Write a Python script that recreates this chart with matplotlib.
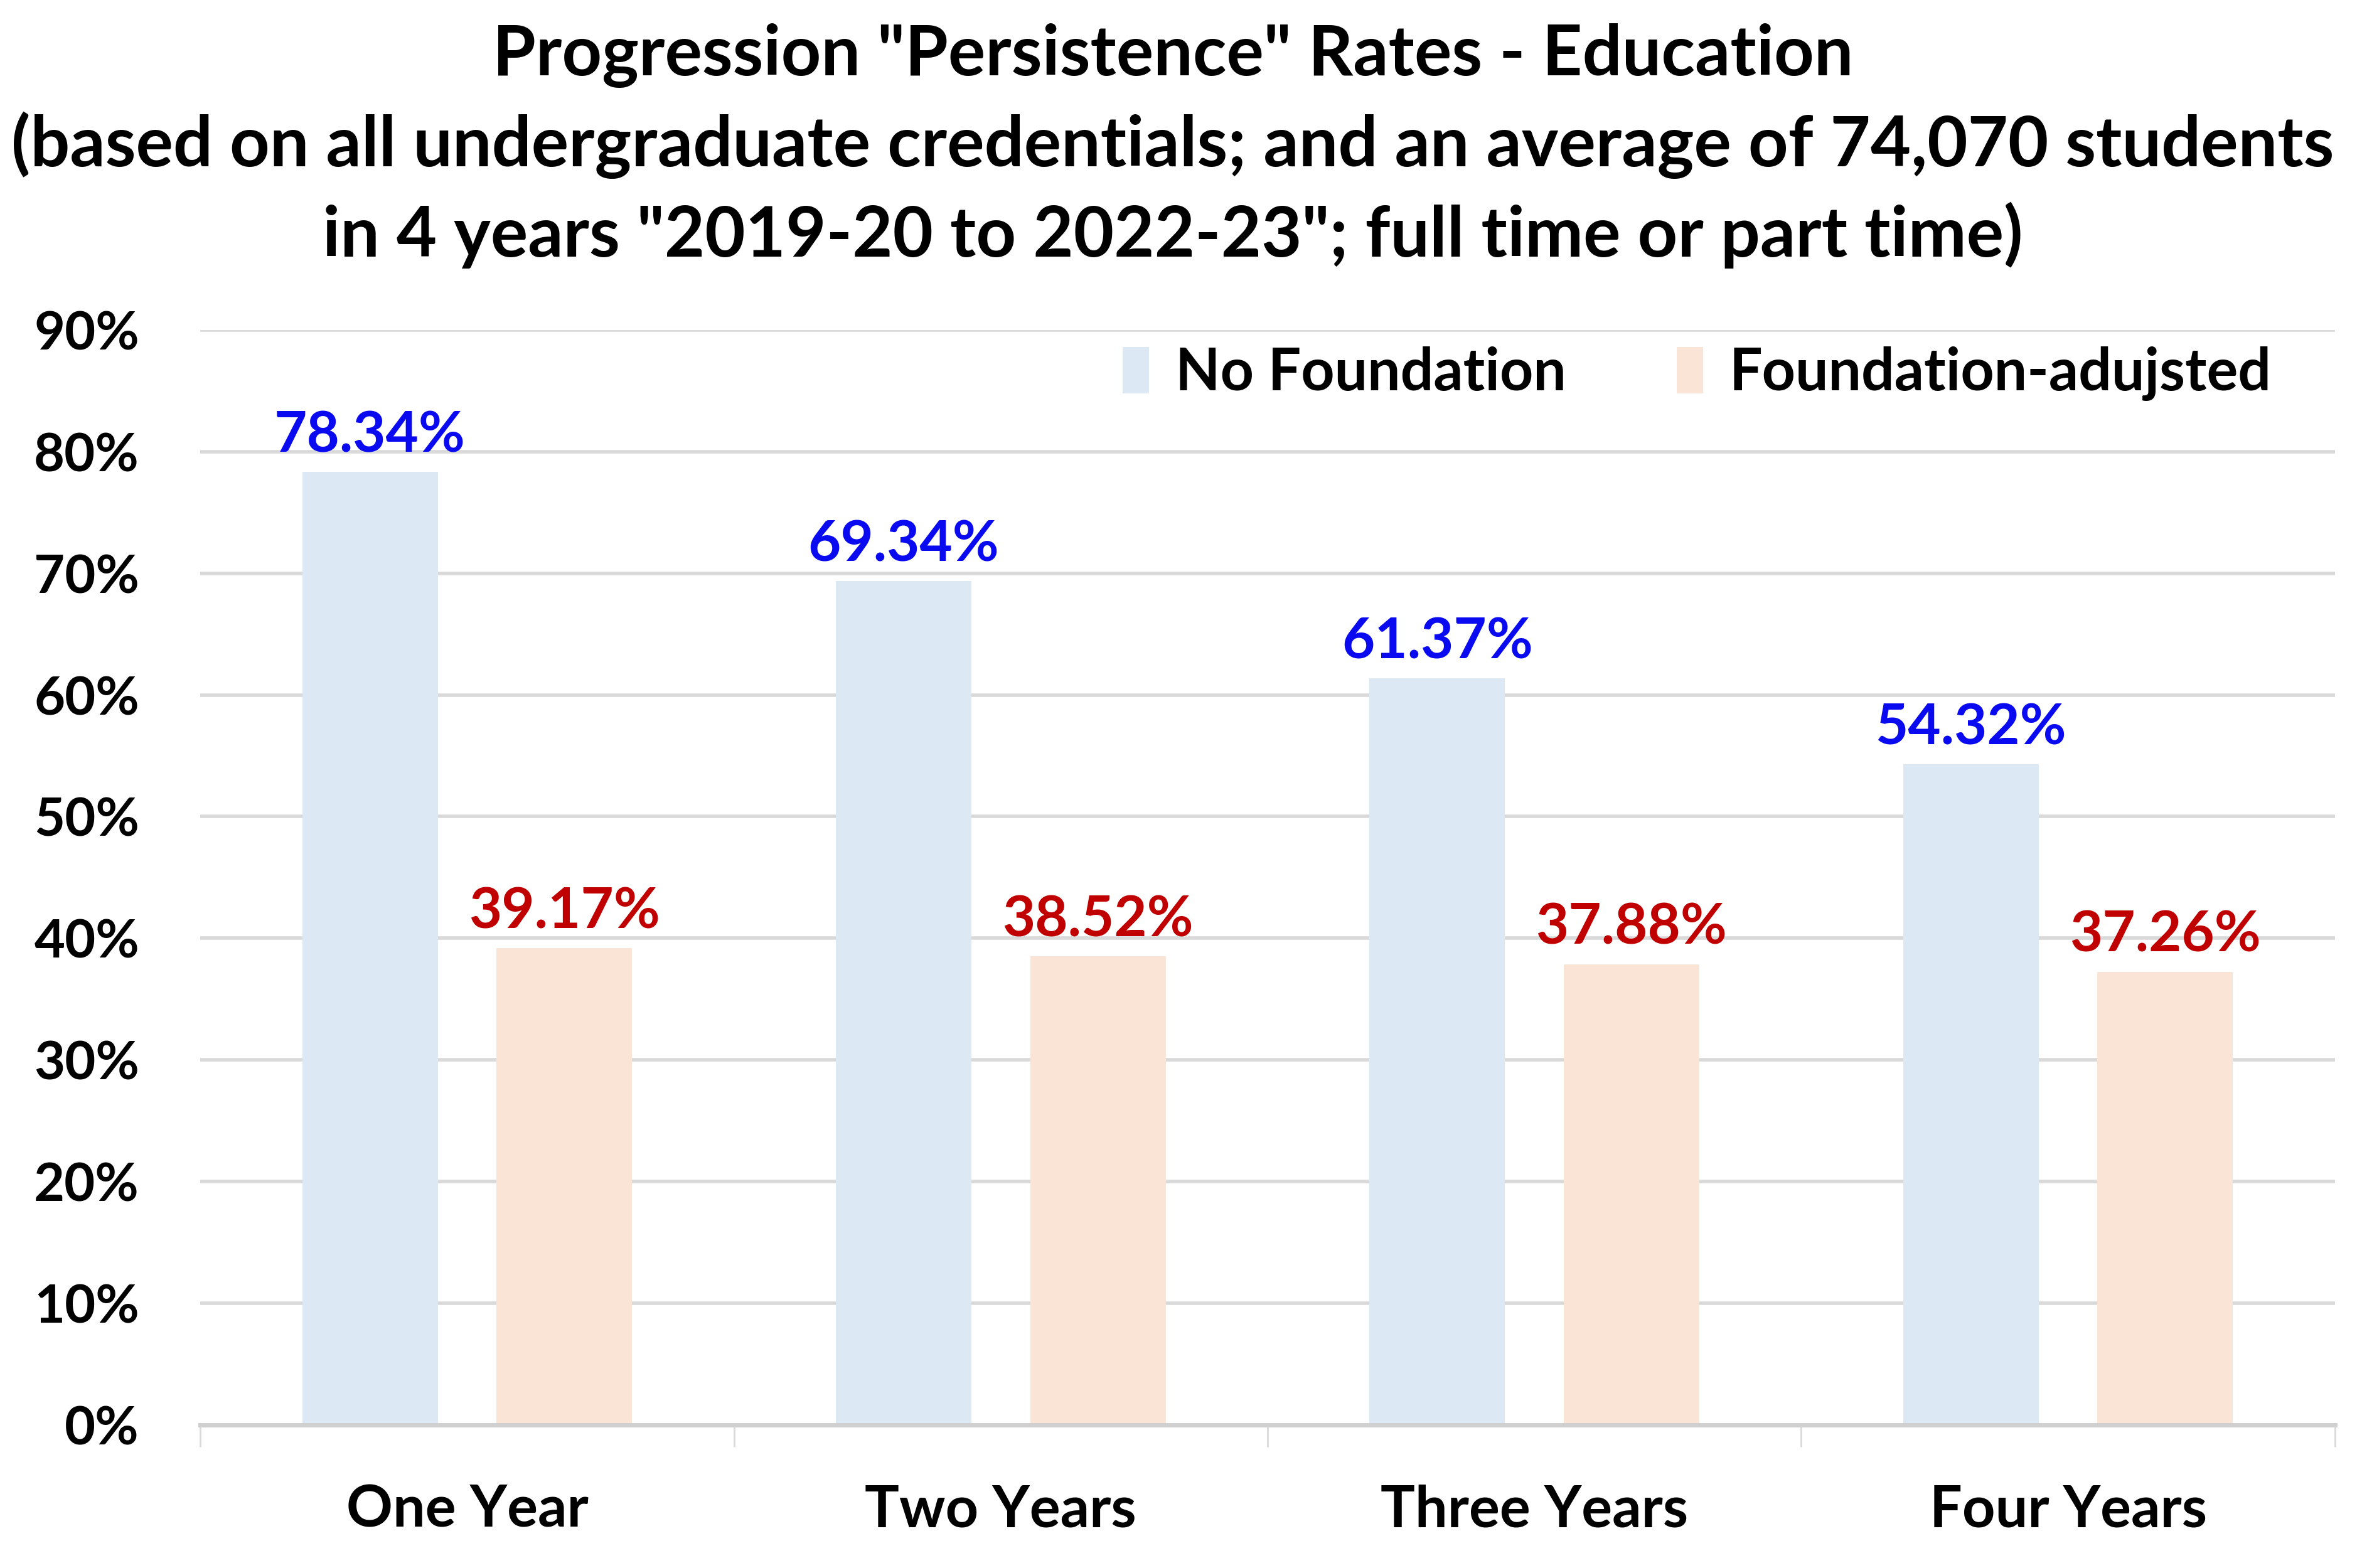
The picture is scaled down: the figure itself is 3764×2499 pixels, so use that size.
import numpy as np
import matplotlib.pyplot as plt

categories = ["One Year", "Two Years", "Three Years", "Four Years"]
no_foundation = [78.34, 69.34, 61.37, 54.32]
foundation_adj = [39.17, 38.52, 37.88, 37.26]
series_names = ["No Foundation", "Foundation-adujsted"]

plt.rcParams['font.family'] = ['Lato', 'DejaVu Sans']
plt.rcParams['font.weight'] = 'bold'

fig = plt.figure(figsize=(37.64, 24.99), dpi=100)
ax = fig.add_axes([0.0848, 0.0912, 0.9037, 0.6984])

x = np.arange(len(categories))
off = 0.182
w = 0.254
b1 = ax.bar(x - off, no_foundation, w, color="#DDE8F5", label=series_names[0], zorder=2)
b2 = ax.bar(x + off, foundation_adj, w, color="#FAE4D6", label=series_names[1], zorder=2)

for bars, vals, col in [(b1, no_foundation, "#0A0AF0"), (b2, foundation_adj, "#C00000")]:
    for r, v in zip(bars, vals):
        ax.annotate(f"{v:.2f}%", (r.get_x() + r.get_width() / 2, v),
                    xytext=(0, 12), textcoords="offset points",
                    ha="center", va="bottom", fontsize=65, fontweight="bold", color=col)

ax.set_xlim(-0.5, len(categories) - 0.5)
ax.set_ylim(0, 90)
ax.set_yticks(np.arange(0, 91, 10))
ax.set_yticklabels([f"{t}%" for t in range(0, 91, 10)])
ax.set_xticks(x)
ax.set_xticklabels(categories)
ax.set_xticks(np.arange(-0.5, len(categories), 1), minor=True)

ax.tick_params(axis="y", length=0, pad=70, labelsize=61)
ax.tick_params(axis="x", which="major", length=0, pad=68, labelsize=66)
ax.tick_params(axis="x", which="minor", length=25, width=2, color="#D9D9D9")

ax.grid(axis="y", color="#D9D9D9", linewidth=4, zorder=0)
for s in ["top", "right", "left"]:
    ax.spines[s].set_visible(False)
ax.spines["bottom"].set_color("#D0D0D0")
ax.spines["bottom"].set_linewidth(5)

leg = ax.legend(loc="center right", bbox_to_anchor=(0.995, 0.96), ncol=2, frameon=False,
                fontsize=67, handlelength=0.45, handleheight=0.85, handletextpad=0.45,
                columnspacing=1.9)

fig.suptitle('Progression "Persistence" Rates - Education\n'
             '(based on all undergraduate credentials; and an average of 74,070 students\n'
             'in 4 years "2019-20 to 2022-23"; full time or part time)',
             x=0.4965, y=0.985, fontsize=80, fontweight="bold", linespacing=1.42)

fig.savefig("out.png", dpi=100)
